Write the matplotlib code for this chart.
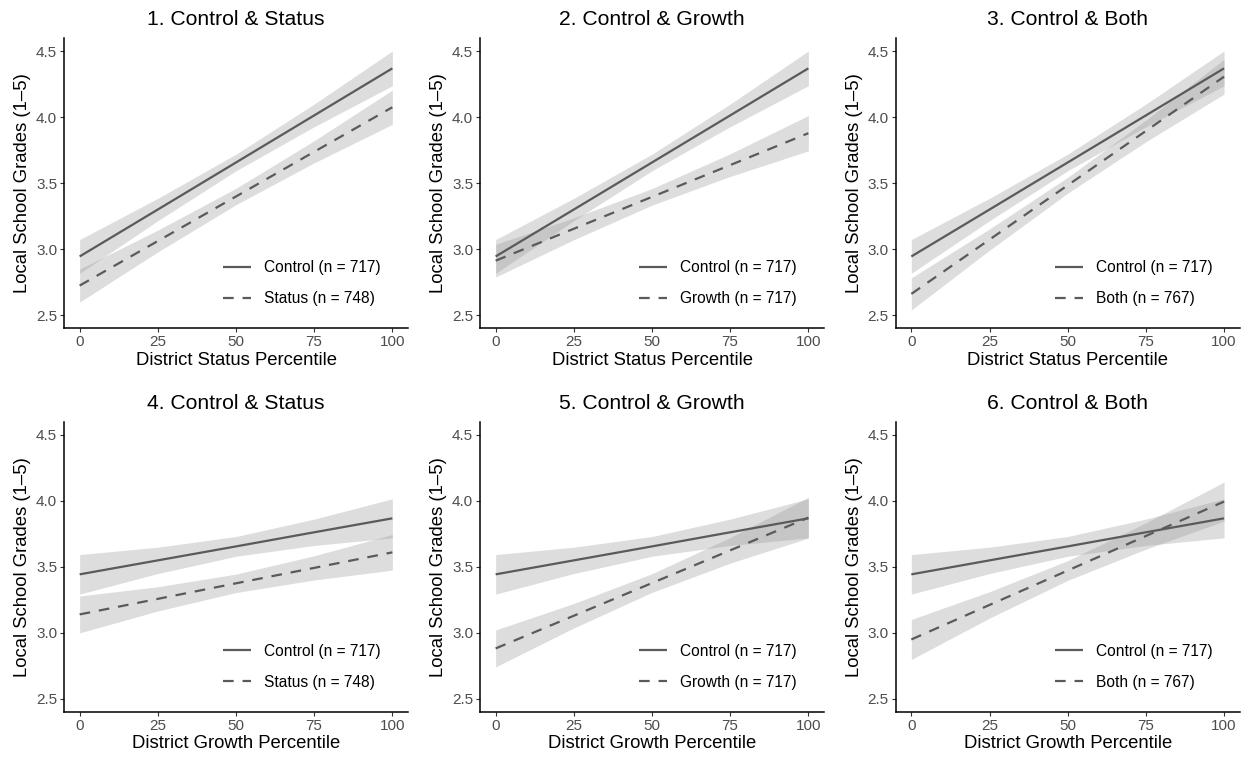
import matplotlib
matplotlib.use("Agg")
import matplotlib.pyplot as plt

plt.rcParams['font.family'] = ['Liberation Sans', 'DejaVu Sans']

# ---------------- data ----------------
x_points = [0, 25, 50, 75, 100]

# Fitted values and CI half-widths at x_points
control_status_fit = [2.945, 3.301, 3.658, 4.015, 4.372]
control_status_hw = [0.128, 0.085, 0.063, 0.086, 0.132]
status_status_fit = [2.724, 3.062, 3.400, 3.739, 4.077]
status_status_hw = [0.125, 0.083, 0.062, 0.084, 0.130]
growth_status_fit = [2.913, 3.155, 3.397, 3.638, 3.880]
growth_status_hw = [0.124, 0.083, 0.063, 0.086, 0.134]
both_status_fit = [2.661, 3.073, 3.485, 3.897, 4.309]
both_status_hw = [0.122, 0.081, 0.060, 0.082, 0.132]

control_growth_fit = [3.442, 3.548, 3.654, 3.761, 3.867]
control_growth_hw = [0.150, 0.100, 0.075, 0.100, 0.148]
status_growth_fit = [3.138, 3.256, 3.374, 3.491, 3.609]
status_growth_hw = [0.140, 0.092, 0.070, 0.092, 0.135]
growth_growth_fit = [2.880, 3.128, 3.376, 3.624, 3.872]
growth_growth_hw = [0.140, 0.093, 0.071, 0.097, 0.155]
both_growth_fit = [2.948, 3.210, 3.471, 3.733, 3.994]
both_growth_hw = [0.152, 0.100, 0.075, 0.100, 0.148]

titles = ["1. Control & Status", "2. Control & Growth", "3. Control & Both",
          "4. Control & Status", "5. Control & Growth", "6. Control & Both"]
xlabels = ["District Status Percentile"] * 3 + ["District Growth Percentile"] * 3
ylabel = "Local School Grades (1\u20135)"
control_label = "Control (n = 717)"
treat_labels = ["Status (n = 748)", "Growth (n = 717)", "Both (n = 767)"]
x_ticks = [0, 25, 50, 75, 100]
y_ticks = [2.5, 3.0, 3.5, 4.0, 4.5]

panel_series = [
    (control_status_fit, control_status_hw, status_status_fit, status_status_hw, treat_labels[0]),
    (control_status_fit, control_status_hw, growth_status_fit, growth_status_hw, treat_labels[1]),
    (control_status_fit, control_status_hw, both_status_fit, both_status_hw, treat_labels[2]),
    (control_growth_fit, control_growth_hw, status_growth_fit, status_growth_hw, treat_labels[0]),
    (control_growth_fit, control_growth_hw, growth_growth_fit, growth_growth_hw, treat_labels[1]),
    (control_growth_fit, control_growth_hw, both_growth_fit, both_growth_hw, treat_labels[2]),
]

# ---------------- layout ----------------
W, H = 1248, 763
fig = plt.figure(figsize=(W / 100, H / 100), dpi=100)
lefts = [64, 480, 895.7]
tops = [38.3, 421.7]
aw, ah = 344, 290

line_color = "#5a5a5a"
band_color = "#999999"
band_alpha = 0.33
lw = 1.6

for i in range(6):
    r, c = divmod(i, 3)
    ax = fig.add_axes([lefts[c] / W, 1 - (tops[r] + ah) / H, aw / W, ah / H])
    cfit, chw, tfit, thw, tlab = panel_series[i]

    for fit, hw in ((cfit, chw), (tfit, thw)):
        lo = [f - h for f, h in zip(fit, hw)]
        hi = [f + h for f, h in zip(fit, hw)]
        ax.fill_between(x_points, lo, hi, color=band_color, alpha=band_alpha,
                        linewidth=0, zorder=1)
    ax.plot(x_points, cfit, color=line_color, lw=lw, solid_capstyle='butt',
            label=control_label, zorder=3)
    ax.plot(x_points, tfit, color=line_color, lw=lw, linestyle=(0, (4.8, 4.0)),
            dash_capstyle='butt', label=tlab, zorder=3)

    ax.set_xlim(-5, 105)
    ax.set_ylim(2.4, 4.6)
    ax.set_xticks(x_ticks)
    ax.set_yticks(y_ticks)
    ax.set_xticklabels([str(v) for v in x_ticks])
    ax.set_yticklabels([f"{v:.1f}" for v in y_ticks])

    for s in ("top", "right"):
        ax.spines[s].set_visible(False)
    for s in ("left", "bottom"):
        ax.spines[s].set_color("black")
        ax.spines[s].set_linewidth(1.1)

    ax.tick_params(axis='both', direction='out', length=2.75, width=0.8,
                   color='#333333', labelcolor='#4d4d4d', labelsize=11, pad=2.2)

    ax.set_title(titles[i], fontsize=15.2, color='black', pad=9.5)
    ax.set_xlabel(xlabels[i], fontsize=13.3, color='black', labelpad=2.0)
    ax.set_ylabel(ylabel, fontsize=13.3, color='black', labelpad=3.5)

    leg = ax.legend(loc='center left', bbox_to_anchor=(0.463, 0.155),
                    frameon=False, fontsize=11.2, handlelength=1.78,
                    handletextpad=0.85, labelspacing=1.03, borderpad=0,
                    borderaxespad=0)

fig.savefig("out.png", dpi=100, facecolor='white')
